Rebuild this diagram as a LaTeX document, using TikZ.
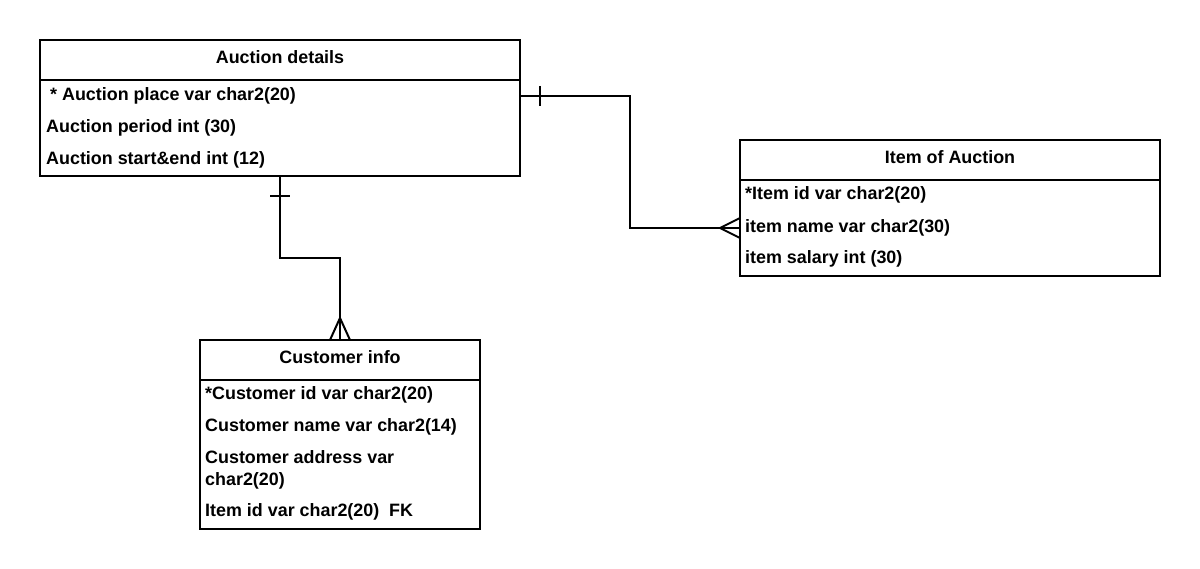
\documentclass[tikz,border=0pt]{standalone}
\usepackage{fontspec}
\setmainfont{Liberation Sans}
\usetikzlibrary{positioning}

\begin{document}
\begin{tikzpicture}[
  x=1pt,
  y=-1pt,
  every node/.style={
    font=\fontsize{17.9}{22}\selectfont\bfseries
  },
  tblhead/.style={
    rectangle,
    draw=black,
    fill=white,
    line width=2pt,
    minimum height=40pt,
    inner sep=0pt,
    outer sep=0pt,
    text depth=6pt,
    text centered
  },
  tblbody/.style={
    rectangle,
    draw=black,
    fill=white,
    line width=2pt,
    inner sep=0pt,
    outer sep=0pt
  },
  field/.style={
    anchor=west,
    inner sep=0pt,
    align=left
  },
  rel/.style={
    line width=2pt,
    draw=black
  }
]

\useasboundingbox (0,0) rectangle (1200,569);

% Auction details table
\node[tblhead, minimum width=480pt] (auction) at (280,60) {Auction details};
\node[tblbody, minimum width=480pt, minimum height=96pt, below=0pt of auction] (auctionbody) {};
\node[field] (adplace) at (50,96) {* Auction place var char2(20)};
\node[field] (adperiod) at (46,128) {Auction period int (30)};
\node[field] (adstart) at (46,160) {Auction start\&end int (12)};

% Item of Auction table
\node[tblhead, minimum width=420pt] (item) at (950,160) {Item of Auction};
\node[tblbody, minimum width=420pt, minimum height=96pt, below=0pt of item] (itembody) {};
\node[field] (itemid) at (745,195) {*Item id var char2(20)};
\node[field] (itemname) at (745,228) {item name var char2(30)};
\node[field] (itemsalary) at (745,259) {item salary int (30)};

% Customer info table
\node[tblhead, minimum width=280pt] (customer) at (340,360) {Customer info};
\node[tblbody, minimum width=280pt, minimum height=149pt, below=0pt of customer] (customerbody) {};
\node[field] (custid) at (205,395) {*Customer id var char2(20)};
\node[field] (custname) at (205,427) {Customer name var char2(14)};
\node[field] (custaddr) at (205,470) {Customer address var\\char2(20)};
\node[field] (custitem) at (205,512) {Item id var char2(20)~~FK};

% Auction details -- Item of Auction
\coordinate (adout) at (auctionbody.east |- adplace);
\coordinate (itemin) at (itembody.west |- itemname);
\draw[rel] (adout) -- ++(110,0) |- (itemin);
\draw[rel] ([xshift=20pt]adout) ++(0,-10) -- ++(0,20);
\draw[rel] ([xshift=-20pt]itemin) -- ++(20,-10);
\draw[rel] ([xshift=-20pt]itemin) -- ++(20,10);

% Auction details -- Customer info
\draw[rel] (auctionbody.south) -- ++(0,82) -| (customer.north);
\draw[rel] ([yshift=-20pt]auctionbody.south) ++(-10,0) -- ++(20,0);
\draw[rel] ([yshift=22pt]customer.north) -- ++(-10,22);
\draw[rel] ([yshift=22pt]customer.north) -- ++(10,22);

\end{tikzpicture}
\end{document}
